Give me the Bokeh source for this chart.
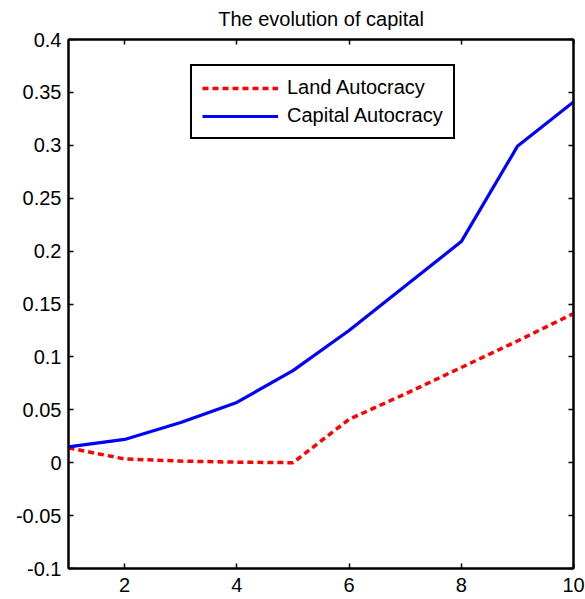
from bokeh.plotting import figure
from bokeh.models import LinearAxis, FixedTicker, Legend, LegendItem, Range1d
from bokeh.embed import file_html
from bokeh.resources import INLINE

periods = [1, 2, 3, 4, 5, 6, 7, 8, 9, 10]
land_autocracy = [0.014, 0.0035, 0.0015, 0.0005, 0.0, 0.041, 0.065, 0.090, 0.115, 0.141]
capital_autocracy = [0.015, 0.022, 0.038, 0.057, 0.087, 0.125, 0.167, 0.209, 0.299, 0.341]

x_ticks = [2, 4, 6, 8, 10]
y_ticks = [-0.1, -0.05, 0, 0.05, 0.1, 0.15, 0.2, 0.25, 0.3, 0.35, 0.4]
y_tick_labels = ["-0.1", "-0.05", "0", "0.05", "0.1", "0.15", "0.2", "0.25", "0.3", "0.35", "0.4"]

FONT = "Liberation Sans"
FS = "20px"

p = figure(width=585, height=597, output_backend="svg", toolbar_location=None,
           x_range=Range1d(1, 10), y_range=Range1d(-0.1, 0.4),
           min_border_left=68, min_border_right=12, min_border_top=38, min_border_bottom=29)
p.xgrid.visible = False
p.ygrid.visible = False
p.outline_line_color = "black"
p.outline_line_width = 2
p.outline_line_alpha = 1.0

p.title.text = "The evolution of capital"
p.title.align = "center"
p.title.vertical_align = "top"
p.title.text_font = FONT
p.title.text_font_size = FS
p.title.text_font_style = "normal"
p.title.text_color = "black"
p.title.standoff = 15
p.title.offset = 0

def style_axis(ax, show_labels):
    ax.axis_line_color = "black"
    ax.axis_line_width = 2
    ax.major_tick_line_color = "black"
    ax.major_tick_line_width = 1.5
    ax.major_tick_in = 5
    ax.major_tick_out = 0
    ax.minor_tick_line_color = None
    ax.major_label_text_font = FONT
    ax.major_label_text_color = "black"
    if show_labels:
        ax.major_label_text_font_size = FS
    else:
        ax.major_label_text_font_size = "0px"
        ax.major_label_standoff = 0

xa = p.xaxis[0]
xa.ticker = FixedTicker(ticks=x_ticks)
style_axis(xa, True)
xa.major_label_standoff = 9

ya = p.yaxis[0]
ya.ticker = FixedTicker(ticks=y_ticks)
ya.major_label_overrides = {v: s for v, s in zip(y_ticks, y_tick_labels)}
style_axis(ya, True)
ya.major_label_standoff = 7

top = LinearAxis(ticker=FixedTicker(ticks=x_ticks))
style_axis(top, False)
top.major_label_overrides = {v: "" for v in x_ticks}
p.add_layout(top, "above")

right = LinearAxis(ticker=FixedTicker(ticks=y_ticks))
style_axis(right, False)
right.major_label_overrides = {v: "" for v in y_ticks}
p.add_layout(right, "right")

r_land = p.line(periods, land_autocracy, line_color="red", line_width=3.5, line_dash="6 4")
r_cap = p.line(periods, capital_autocracy, line_color="blue", line_width=3.2)

legend = Legend(items=[LegendItem(label="Land Autocracy", renderers=[r_land]),
                       LegendItem(label="Capital Autocracy", renderers=[r_cap])],
                location=(122, 429))
legend.border_line_color = "black"
legend.border_line_width = 2
legend.border_line_alpha = 1.0
legend.background_fill_color = "white"
legend.background_fill_alpha = 1
legend.label_text_font = FONT
legend.label_text_font_size = FS
legend.label_text_color = "black"
legend.glyph_width = 76
legend.glyph_height = 20
legend.label_height = 20
legend.label_standoff = 9
legend.spacing = 5
legend.padding = 10
legend.margin = 0
p.add_layout(legend, "center")

open("out.html", "w").write(file_html(p, INLINE))
